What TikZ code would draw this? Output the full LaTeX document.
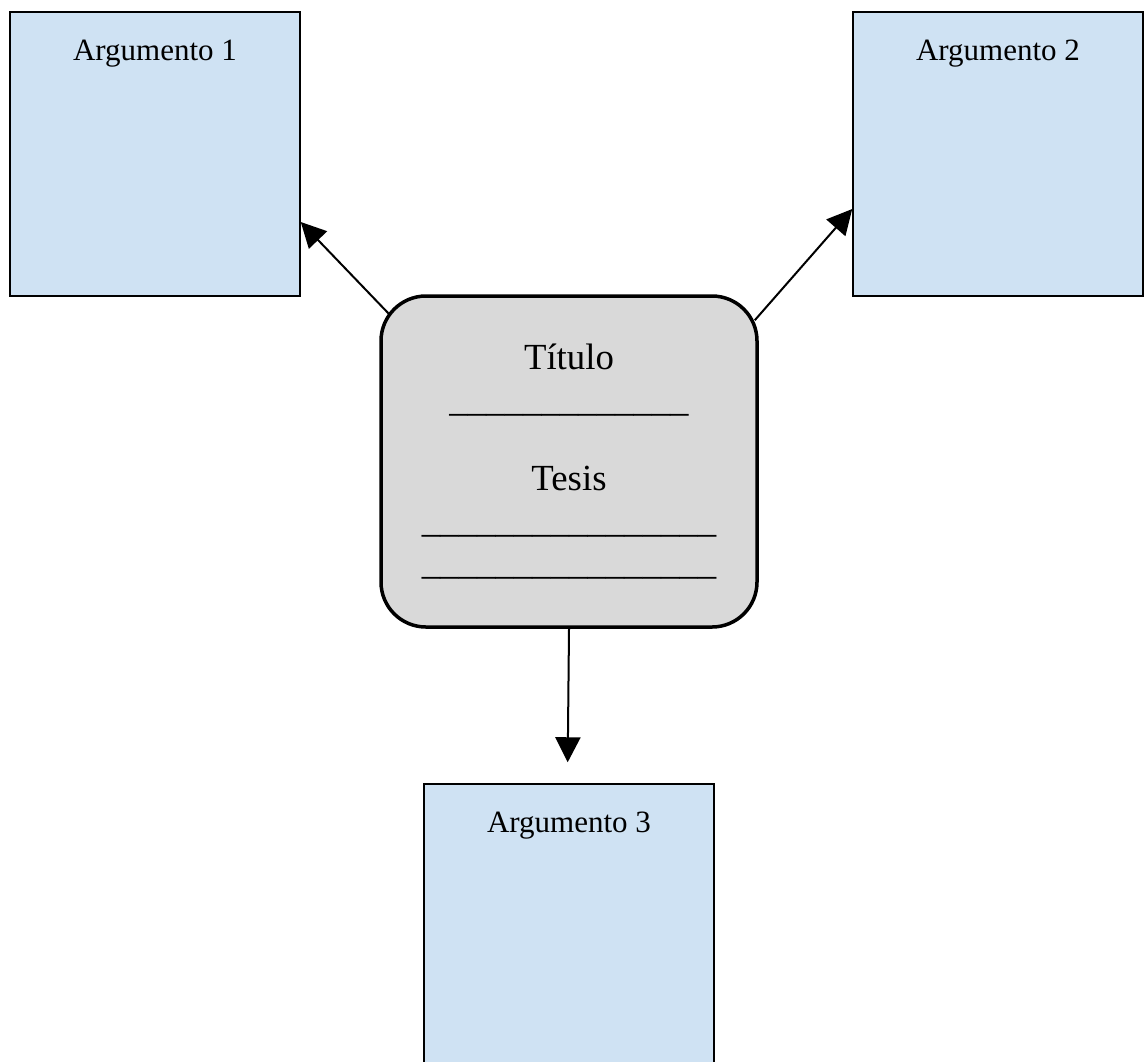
\documentclass[tikz,border=0pt]{standalone}
\usepackage{fontspec}
\setmainfont{Liberation Serif}
\usepackage{tikz}
\usetikzlibrary{arrows.meta}
\definecolor{argblue}{HTML}{CFE2F3}
\definecolor{tesisgray}{HTML}{D9D9D9}

\begin{document}
\begin{tikzpicture}[x=0.5pt, y=-0.5pt,
  argbox/.style={draw=black, line width=0.75pt, fill=argblue, minimum width=145pt, inner sep=0pt,
    text height=24pt, text depth=118pt, font=\fontsize{15.5pt}{18pt}\selectfont},
  tesisbox/.style={draw=black, line width=1.75pt, fill=tesisgray, rounded corners=22.5pt,
    minimum width=188pt, minimum height=165.5pt, align=center, font=\fontsize{18.4pt}{21pt}\selectfont},
  arrow/.style={line width=1pt, -{Triangle[length=12.5pt, width=12.5pt]}}]
  \clip (0, 0) rectangle (1144, 1061);
  \node[argbox] (arg1) at (155, 154) {Argumento 1};
  \node[argbox] (arg2) at (998, 154) {Argumento 2};
  \node[argbox] (arg3) at (569, 926) {Argumento 3};
  \node[tesisbox] (tesis) at (569, 461.5)
    {Título\\ \_\_\_\_\_\_\_\_\_\_\_\_\_\\[18.5pt]
     Tesis\\ \_\_\_\_\_\_\_\_\_\_\_\_\_\_\_\_\\ \_\_\_\_\_\_\_\_\_\_\_\_\_\_\_\_};
  \draw[arrow] ([xshift=5.35pt, yshift=-10.35pt]tesis.north west) -- ([yshift=-34pt]arg1.east);
  \draw[arrow] ([xshift=-2pt, yshift=-13pt]tesis.north east) -- ([yshift=-27.5pt]arg2.west);
  \draw[arrow] (tesis.south) -- ([xshift=-0.65pt, yshift=10.5pt]arg3.north);
\end{tikzpicture}
\end{document}
